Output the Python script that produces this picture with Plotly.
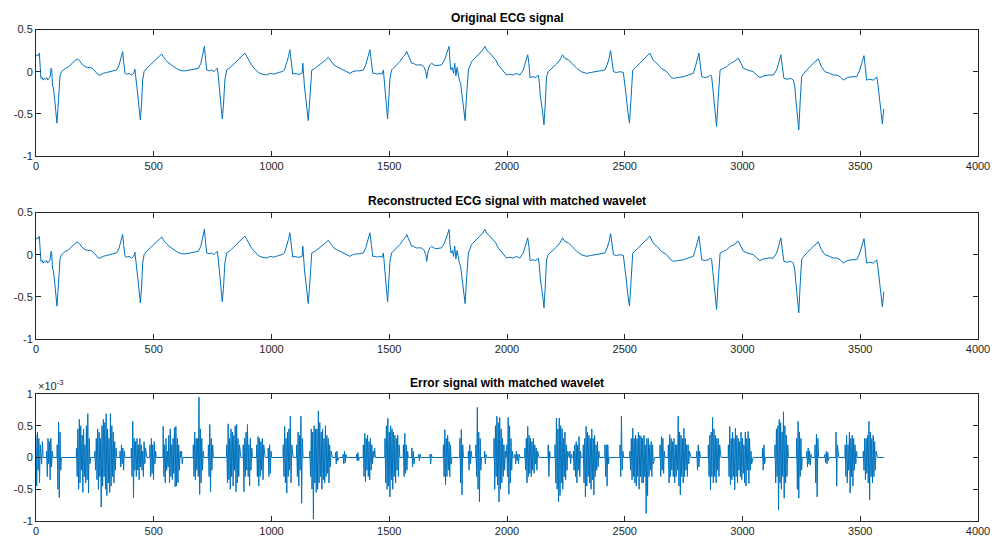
import plotly.graph_objects as go

# ---------------- data ----------------
# Original ECG signal: (sample index, amplitude) points
ecg_samples = [0,5,10,14,18,21,26,30,35,40,45,50,55,60,64,67,70,74,80,86,89,93,98,102,108,116,125,135,145,155,165,175,185,195,208,220,232,243,255,265,272,285,300,315,330,342,352,360,368,372,378,385,395,405,415,420,424,428,435,443,448,453,459,470,485,500,515,525,534,540,550,565,580,600,619,635,655,675,690,700,708,715,720,725,735,745,755,765,770,774,778,784,791,796,802,810,825,840,855,870,880,887,895,905,915,930,944,960,979,995,1010,1030,1045,1055,1065,1072,1078,1083,1090,1100,1110,1120,1130,1133,1136,1140,1147,1156,1161,1166,1171,1185,1200,1215,1230,1241,1250,1265,1277,1290,1305,1319,1333,1345,1360,1375,1390,1400,1410,1418,1424,1430,1440,1450,1460,1470,1475,1478,1482,1488,1493,1498,1503,1510,1525,1545,1560,1568,1574,1582,1595,1602,1615,1625,1638,1648,1655,1659,1665,1672,1680,1695,1710,1722,1735,1744,1750,1754,1758,1762,1768,1773,1778,1783,1788,1793,1798,1803,1810,1816,1822,1828,1836,1843,1850,1860,1870,1880,1890,1898,1906,1915,1927,1940,1952,1963,1975,1988,1998,2010,2025,2040,2055,2069,2080,2088,2093,2098,2110,2120,2130,2133,2137,2142,2150,2157,2162,2168,2175,2183,2195,2210,2225,2236,2245,2261,2275,2296,2315,2338,2355,2381,2400,2416,2425,2433,2440,2446,2452,2465,2480,2494,2499,2505,2512,2520,2526,2534,2550,2565,2585,2600,2607,2620,2636,2655,2678,2695,2707,2725,2749,2770,2791,2800,2808,2815,2821,2827,2840,2855,2865,2869,2874,2879,2885,2890,2896,2905,2920,2933,2950,2965,2982,2992,3004,3020,3046,3060,3074,3090,3110,3131,3145,3155,3163,3169,3176,3190,3205,3216,3222,3227,3233,3239,3245,3251,3260,3272,3290,3305,3322,3335,3350,3370,3385,3400,3415,3428,3445,3465,3485,3498,3508,3516,3522,3527,3540,3555,3565,3570,3575,3581,3588,3594,3598,3600]
ecg_values = [0.18,0.2,0.19,0.22,0.05,-0.08,-0.07,-0.1,-0.08,-0.09,-0.07,-0.1,-0.08,-0.06,0.04,0.02,-0.17,-0.19,-0.35,-0.55,-0.61,-0.45,-0.15,-0.05,0.0,0.02,0.04,0.05,0.08,0.1,0.13,0.15,0.13,0.09,0.06,0.05,0.05,0.03,-0.01,-0.04,-0.04,-0.02,-0.01,0.0,0.01,0.02,0.07,0.15,0.24,0.12,-0.02,-0.03,-0.02,-0.04,-0.02,0.03,-0.05,-0.17,-0.35,-0.57,-0.4,-0.1,0.0,0.04,0.08,0.12,0.16,0.19,0.21,0.18,0.14,0.1,0.07,0.03,0.01,0.01,0.02,0.03,0.04,0.1,0.2,0.3,0.15,0.02,0.01,0.02,0.0,0.02,0.04,-0.05,-0.15,-0.35,-0.56,-0.4,-0.1,0.02,0.05,0.09,0.13,0.17,0.2,0.22,0.18,0.12,0.08,0.03,-0.01,-0.03,-0.04,-0.02,-0.03,-0.01,0.0,0.02,0.1,0.18,0.26,0.12,-0.03,-0.02,-0.03,-0.03,-0.02,0.1,-0.05,-0.18,-0.35,-0.58,-0.4,-0.1,0.02,0.04,0.07,0.1,0.14,0.17,0.13,0.08,0.06,0.04,0.02,0.0,-0.02,0.0,0.01,0.01,0.02,0.08,0.18,0.26,0.12,-0.02,-0.02,-0.03,-0.02,-0.03,0.02,-0.06,-0.2,-0.4,-0.56,-0.35,-0.08,0.02,0.06,0.12,0.18,0.2,0.24,0.18,0.1,0.1,0.08,0.08,0.08,0.05,0.0,-0.08,0.03,0.08,0.1,0.07,0.08,0.08,0.14,0.22,0.27,0.3,0.12,0.02,0.05,-0.02,0.1,-0.05,0.05,-0.04,-0.1,-0.14,-0.3,-0.45,-0.58,-0.3,0.02,0.07,0.12,0.15,0.18,0.2,0.23,0.26,0.3,0.25,0.22,0.18,0.14,0.08,0.04,0.0,-0.04,-0.03,-0.04,-0.02,-0.04,0.02,0.12,0.2,0.1,-0.07,-0.06,-0.07,-0.05,-0.04,-0.12,-0.3,-0.45,-0.63,-0.4,-0.06,0.0,0.02,0.05,0.09,0.14,0.2,0.16,0.14,0.1,0.04,0.0,-0.02,-0.01,0.0,0.01,0.02,0.08,0.15,0.25,0.1,0.0,-0.01,0.0,-0.01,-0.1,-0.26,-0.45,-0.61,-0.35,0.02,0.06,0.1,0.16,0.2,0.22,0.14,0.1,0.04,0.0,-0.06,-0.08,-0.07,-0.06,-0.04,-0.02,0.06,0.15,0.22,0.08,-0.06,-0.07,-0.06,-0.04,-0.06,-0.2,-0.34,-0.5,-0.65,-0.35,0.02,0.04,0.06,0.1,0.12,0.16,0.1,0.04,0.02,0.0,-0.04,-0.07,-0.05,-0.04,-0.04,0.02,0.12,0.2,0.06,-0.08,-0.09,-0.08,-0.1,-0.18,-0.34,-0.52,-0.69,-0.35,-0.06,-0.02,0.02,0.07,0.11,0.15,0.06,0.0,-0.02,-0.04,-0.04,-0.06,-0.1,-0.07,-0.06,-0.06,0.02,0.12,0.19,0.04,-0.1,-0.09,-0.1,-0.08,-0.06,-0.15,-0.3,-0.48,-0.62,-0.5,-0.44]

# Reconstructed ECG signal (visually identical to the original)
rec_samples = list(ecg_samples)
rec_values = list(ecg_values)

# Error signal bursts (x 1e-3): start sample, values every 3 samples
err_step = 3
err_bursts = [
    (0, [0.35,-0.45,0.4,-0.2,0.3,-0.4,0.2,0.05,-0.1,0.25]),
    (45, [0.1,-0.3,0.3,-0.1,0.25,-0.35,0.3,-0.15,0.1,0.0]),
    (90, [0.2,-0.5,0.56,-0.63,0.4,-0.2]),
    (172, [0.15,-0.3,0.45,-0.5,0.6,-0.4,0.5,-0.2,0.35,-0.55,0.45,-0.3,0.2,-0.4,0.5,-0.35,0.69,-0.56,0.3,-0.1]),
    (250, [0.1,-0.2,0.3,-0.35,0.45,-0.5,0.4,-0.3,0.3,-0.78,0.5,-0.45,0.6,-0.3,0.55,-0.5,0.69,-0.6,0.45,-0.4,0.3,-0.55,0.69,-0.45,0.5,-0.3,0.4,-0.4,0.25,-0.2,0.15]),
    (357, [0.1,-0.15,0.2,-0.1,0.15,-0.2,0.1,0.0]),
    (405, [0.15,-0.3,0.57,-0.63,0.3,-0.2,0.25,-0.3,0.3,-0.2,0.2,-0.35,0.3,-0.15,0.2,-0.2,0.1,-0.3,0.25,-0.1,0.15,0.0]),
    (484, [0.2,-0.3,0.3,-0.25,0.2,-0.35,0.25,-0.1,0.1]),
    (540, [0.49,-0.3,0.2,-0.4,0.3,-0.2,0.1,-0.15,0.35,-0.4,0.45,-0.3,0.2,-0.35,0.3,-0.25,0.47,-0.46,0.49,-0.45,0.3,-0.4,0.2,-0.2,0.1,0.0,0.1,-0.1,0.0]),
    (668, [0.2,-0.3,0.4,-0.35,0.3,-0.2,0.3,-0.3,0.95,-0.58,0.45,-0.4,0.3,-0.2,0.1]),
    (732, [0.2,-0.3,0.52,-0.54,0.3,-0.2,0.2,0.0]),
    (810, [0.2,-0.4,0.53,-0.35,0.3,-0.5,0.45,-0.3,0.4,-0.45,0.35,-0.2,0.5,-0.54,0.52,-0.4,0.3,-0.3,0.2,0.0]),
    (880, [0.2,-0.54,0.3,-0.3,0.4,-0.2,0.52,-0.3,0.2,-0.45,0.3,-0.2,0.15,0.0]),
    (937, [0.2,-0.3,0.33,-0.45,0.3,-0.3,0.25,-0.2,0.3,-0.35,0.2,0.0]),
    (986, [0.15,-0.3,0.2,-0.25,0.1]),
    (1050, [0.2,-0.3,0.49,-0.4,0.3,-0.56,0.4,-0.3,0.45,-0.2,0.65,-0.4,0.2,0.0]),
    (1107, [0.2,-0.3,0.4,-0.45,0.35,-0.2,0.65,-0.72,0.3,0.0]),
    (1163, [0.1,-0.3,0.45,-0.5,0.4,-0.97,0.5,-0.4,0.45,-0.55,0.45,-0.5,0.73,-0.4,0.55,-0.3,0.4,-0.5,0.45,-0.35,0.3,-0.4,0.5,-0.3,0.35,-0.25,0.3,-0.4,0.2,-0.15,0.1,0.0]),
    (1272, [0.08,-0.1,0.1,-0.05,0.0]),
    (1304, [0.05,-0.1,0.1,-0.08,0.05]),
    (1361, [0.05,-0.05,0.08,-0.05,0.0]),
    (1390, [0.2,-0.3,0.38,-0.38,0.3,-0.2,0.35,-0.3,0.25,-0.35,0.3,-0.2,0.2,-0.1,0.1,0.0,0.15]),
    (1482, [0.3,-0.4,0.5,-0.5,0.62,-0.45,0.4,-0.62,0.5,-0.35,0.45,-0.5,0.4,-0.3,0.35,-0.4,0.3,-0.2,0.35,-0.3,0.2,0.0]),
    (1560, [0.2,-0.3,0.38,-0.25,0.2,-0.2,0.1]),
    (1596, [0.15,-0.15,0.1,-0.1]),
    (1625, [0.05,-0.05,0.05]),
    (1673, [0.05,-0.1,0.05]),
    (1730, [0.2,-0.3,0.44,-0.43,0.3,-0.3,0.35,-0.2,0.25,-0.3,0.2,-0.1]),
    (1800, [0.3,-0.4,0.44,-0.59,0.2,0.0]),
    (1836, [0.1,-0.2,0.2,-0.1,0.1]),
    (1868, [0.2,-0.3,0.79,-0.5,0.4,-0.7,0.3,-0.2]),
    (1905, [0.1,-0.1,0.05]),
    (1945, [0.3,-0.5,0.5,-0.3,0.65,-0.43,0.55,-0.7,0.63,-0.5,0.45,-0.4,0.3,-0.3,0.2,-0.2,0.1,0.0,0.2,-0.3,0.63,-0.58,0.5,-0.4,0.3,-0.2,0.1]),
    (2034, [0.05,-0.1,0.1,-0.05,0.05,-0.1,0.05]),
    (2076, [0.15,-0.2,0.3,-0.4,0.49,-0.3,0.35,-0.25,0.3,-0.3,0.25,-0.2,0.3,-0.25,0.2,-0.1,0.15,-0.2,0.1,0.0]),
    (2175, [0.2,-0.3,0.1]),
    (2204, [0.2,-0.4,0.62,-0.5,0.45,-0.7,0.62,-0.6,0.5,-0.4,0.45,-0.5,0.3,-0.3,0.4,-0.35,0.2,-0.2,0.1,0.0]),
    (2267, [0.1,-0.1,0.05]),
    (2282, [0.1,-0.2,0.2,-0.3,0.25,-0.4,0.2,-0.2,0.33,-0.3,0.1]),
    (2324, [0.2,-0.4,0.3,-0.62,0.49,-0.45,0.4,-0.3,0.35,-0.4,0.3,-0.5,0.45,-0.35,0.3,-0.59,0.35,-0.3,0.2,-0.2,0.25,-0.15,0.1,0.0]),
    (2416, [0.2,-0.3,0.2,-0.45,0.2,-0.1]),
    (2480, [0.2,-0.3,0.65,-0.2,0.1]),
    (2522, [0.1,-0.2,0.3,-0.35,0.46,-0.3,0.3,-0.4,0.35,-0.45,0.3,-0.3,0.4,-0.5,0.35,-0.3,0.33,-0.4,0.3,-0.4,0.35,-0.3,0.2,-0.88,0.3,-0.6,0.3,-0.3,0.2,-0.2,0.25,-0.3,0.2,-0.1,0.0]),
    (2650, [0.2,-0.3,0.33,-0.2,0.3,-0.25,0.1,0.0]),
    (2685, [0.2,-0.4,0.36,-0.3,0.3,-0.2,0.25,-0.3,0.3,-0.4,0.2,-0.3,0.2,-0.2,0.65,-0.45,0.4,-0.59,0.35,-0.3,0.3,-0.4,0.46,-0.3,0.3,-0.2,0.2,-0.3,0.2,-0.1,0.1,0.0]),
    (2806, [0.1,-0.2,0.2,-0.15,0.1]),
    (2855, [0.2,-0.3,0.35,-0.51,0.4,-0.3,0.63,-0.4,0.45,-0.3,0.35,-0.4,0.3,-0.2,0.3,-0.3,0.2,0.0]),
    (2940, [0.2,-0.3,0.49,-0.43,0.3,-0.35,0.4,-0.3,0.3,-0.51,0.46,-0.3,0.35,-0.4,0.3,-0.2,0.25,-0.3,0.4,-0.35,0.3,-0.25,0.2,-0.4,0.4,-0.45,0.3,-0.2,0.41,-0.41,0.3,-0.2,0.1,-0.1,0.0]),
    (3085, [0.15,-0.2,0.2,-0.1]),
    (3138, [0.2,-0.4,0.45,-0.3,0.5,-0.83,0.6,-0.4,0.55,-0.5,0.4,-0.3,0.72,-0.64,0.5,-0.4,0.35,-0.3,0.2,0.0]),
    (3230, [0.3,-0.5,0.57,-0.64,0.4,-0.3,0.3,-0.2]),
    (3273, [0.1,-0.15,0.15,-0.1,0.1,-0.12,0.05]),
    (3308, [0.2,-0.4,0.37,-0.62,0.3,0.0]),
    (3350, [0.05,-0.08,0.1,-0.1,0.08,-0.05,0.0]),
    (3397, [0.4,-0.45,0.2,0.0]),
    (3436, [0.2,-0.3,0.35,-0.4,0.2,-0.2,0.4,-0.56,0.3,-0.3,0.35,-0.45,0.3,-0.2,0.2,-0.1,0.1]),
    (3513, [0.1,-0.2,0.3,-0.35,0.3,-0.25,0.35,-0.4,0.57,-0.67,0.4,-0.3,0.3,-0.4,0.35,-0.3,0.25,-0.2,0.1,0.0]),
]
err_last_sample = 3600

x_ticks = [0, 500, 1000, 1500, 2000, 2500, 3000, 3500, 4000]
ecg_y_ticks = [-1, -0.5, 0, 0.5]
err_y_ticks = [-1, -0.5, 0, 0.5, 1]
titles = ["Original ECG signal", "Reconstructed ECG signal with matched wavelet", "Error signal with matched wavelet"]

# ---------------- build error series ----------------
err_x, err_y = [], []
for start, vals in err_bursts:
    if start > 0:
        err_x.append(start - 1); err_y.append(0.0)
    for i, v in enumerate(vals):
        err_x.append(start + i * err_step); err_y.append(v)
    err_x.append(start + len(vals) * err_step); err_y.append(0.0)
err_x.append(err_last_sample); err_y.append(0.0)

# ---------------- figure ----------------
LINE = "#0072BD"
AX = "#262626"
FONT = "Liberation Sans, Arial, Helvetica, sans-serif"

fig = go.Figure()
fig.add_trace(go.Scatter(x=ecg_samples, y=ecg_values, mode="lines", line=dict(color=LINE, width=1), xaxis="x", yaxis="y", showlegend=False))
fig.add_trace(go.Scatter(x=rec_samples, y=rec_values, mode="lines", line=dict(color=LINE, width=1), xaxis="x2", yaxis="y2", showlegend=False))
fig.add_trace(go.Scatter(x=err_x, y=err_y, mode="lines", line=dict(color=LINE, width=1), xaxis="x3", yaxis="y3", showlegend=False))

domains = [(1 - 156 / 542, 1 - 29.5 / 542), (1 - 339 / 542, 1 - 212.5 / 542), (1 - 521 / 542, 1 - 394 / 542)]
xdom = [0.036, 0.978]

def xax(anchor):
    return dict(domain=xdom, range=[0, 4000], tickvals=x_ticks, ticktext=[str(t) for t in x_ticks],
                showgrid=False, zeroline=False, showline=True, linecolor=AX, linewidth=1, mirror="ticks",
                ticks="inside", ticklen=5, tickcolor=AX, tickfont=dict(family=FONT, size=11, color=AX),
                anchor=anchor, automargin=False)

def yax(dom, rng, ticks, anchor):
    return dict(domain=list(dom), range=rng, tickvals=ticks, ticktext=[("%g" % t) for t in ticks],
                showgrid=False, zeroline=False, showline=True, linecolor=AX, linewidth=1, mirror="ticks",
                ticks="inside", ticklen=5, tickcolor=AX, tickfont=dict(family=FONT, size=11, color=AX),
                anchor=anchor, automargin=False)

fig.update_layout(
    width=1000, height=542, margin=dict(l=0, r=0, t=0, b=0, autoexpand=False),
    paper_bgcolor="white", plot_bgcolor="white", showlegend=False,
    xaxis=xax("y"), yaxis=yax(domains[0], [-1, 0.5], ecg_y_ticks, "x"),
    xaxis2=xax("y2"), yaxis2=yax(domains[1], [-1, 0.5], ecg_y_ticks, "x2"),
    xaxis3=xax("y3"), yaxis3=yax(domains[2], [-1, 1], err_y_ticks, "x3"),
)

annots = []
for dom, t in zip(domains, titles):
    annots.append(dict(text="<b>%s</b>" % t, x=0.507, y=dom[1], xref="paper", yref="paper",
                       xanchor="center", yanchor="bottom", yshift=2, showarrow=False,
                       font=dict(family=FONT, size=12, color="black")))
annots.append(dict(text="×10<sup>-3</sup>", x=0.036, y=domains[2][1], xref="paper", yref="paper",
                   xanchor="left", yanchor="bottom", yshift=0, showarrow=False,
                   font=dict(family=FONT, size=11, color=AX)))
fig.update_layout(annotations=annots)

fig.write_html("out.html", config={"displayModeBar": False},
               post_script="document.body.style.margin='0';document.body.style.overflow='hidden';")
